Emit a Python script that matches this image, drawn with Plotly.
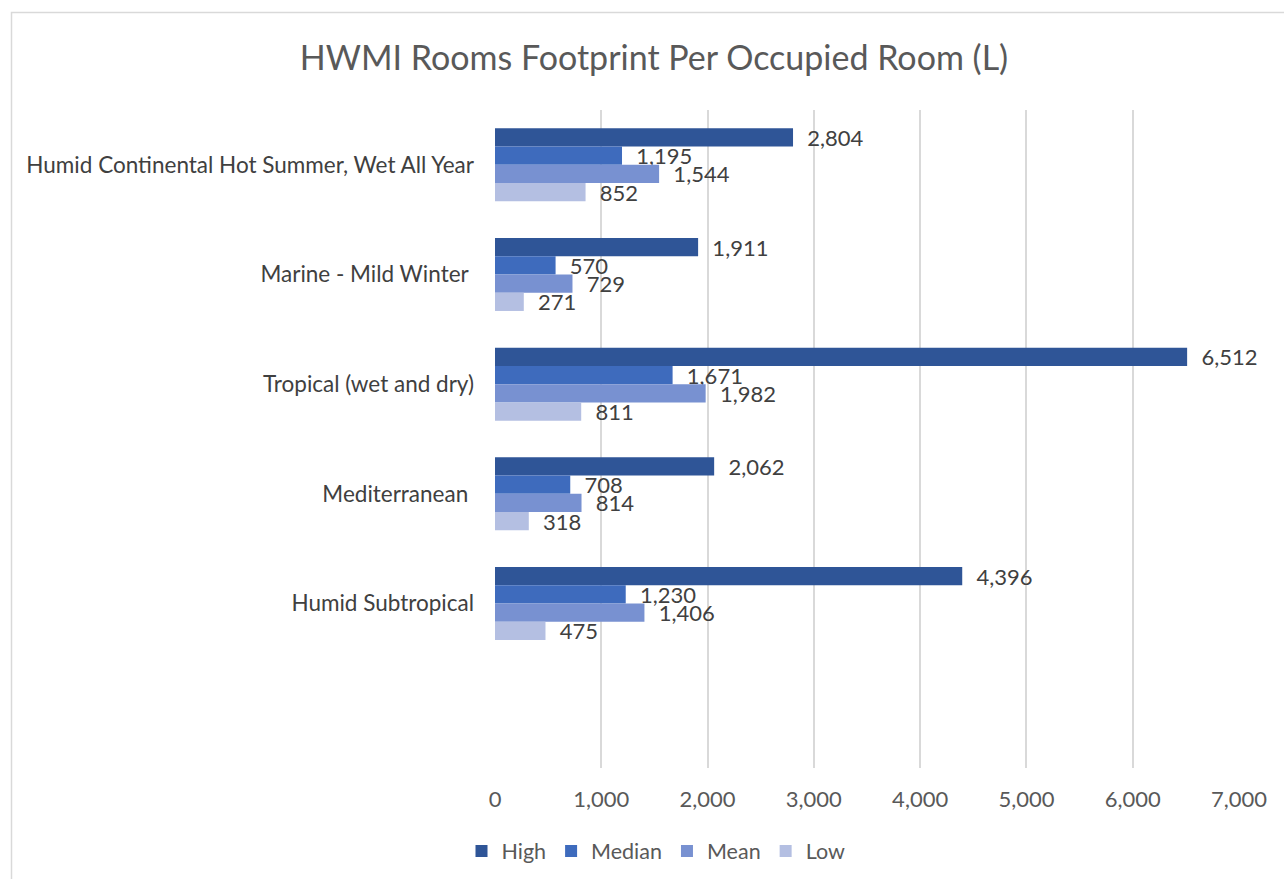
import plotly.graph_objects as go

categories = ["Humid Continental Hot Summer, Wet All Year", "Marine - Mild Winter\u00a0",
              "Tropical (wet and dry)", "Mediterranean\u00a0", "Humid Subtropical", "\u2002"]
high = [2804, 1911, 6512, 2062, 4396, None]
median = [1195, 570, 1671, 708, 1230, None]
mean = [1544, 729, 1982, 814, 1406, None]
low = [852, 271, 811, 318, 475, None]

series = [("High", high, "#2F5597"), ("Median", median, "#3E6BBD"),
          ("Mean", mean, "#7891D1"), ("Low", low, "#B4BFE2")]

FONT = "Lato"
fig = go.Figure()
for name, vals, col in series:
    fig.add_trace(go.Bar(
        y=categories, x=vals, name=name, orientation="h",
        marker=dict(color=col, line=dict(width=0)),
        text=["\u00a0\u00a0" + f"{v:,}" if v is not None else "" for v in vals],
        textposition="outside", cliponaxis=False, constraintext="none",
        textfont=dict(family=FONT, size=22, color="#404040"),
    ))

W, H = 1284, 879
L, R, T, B = 495, 45, 110, 111
pw, ph = W - L - R, H - T - B

def px(x):
    return (x - L) / pw

def py(y):
    return (H - B - y) / ph

fig.update_layout(
    width=W, height=H,
    margin=dict(l=L, r=R, t=T, b=B),
    paper_bgcolor="white", plot_bgcolor="white",
    barmode="group", bargap=0.335, bargroupgap=0,
    font=dict(family=FONT, color="#595959"),
    title=dict(text="HWMI Rooms Footprint Per Occupied Room (L)", x=654 / W, xref="container",
               xanchor="center", y=1 - 58 / H, yanchor="middle", yref="container",
               font=dict(family=FONT, size=34, color="#595959")),
    xaxis=dict(range=[0, 7000], dtick=1000, tickformat=",d", showgrid=True,
               gridcolor="#D9D9D9", gridwidth=1.5, zeroline=False, showline=False,
               ticks="", tickfont=dict(family=FONT, size=22, color="#595959"),
               ticklabelstandoff=16),
    yaxis=dict(categoryorder="array", categoryarray=categories, autorange="reversed",
               showgrid=False, showline=False, ticks="", zeroline=False,
               tickfont=dict(family=FONT, size=22.5, color="#404040"), ticklabelstandoff=20),
    legend=dict(orientation="h", x=656 / W, xref="container", xanchor="center",
                y=1 - 851 / H, yref="container", yanchor="middle",
                traceorder="normal", font=dict(family=FONT, size=21.5, color="#595959"),
                itemwidth=30),
    showlegend=True,
    shapes=[dict(type="rect", xref="paper", yref="paper",
                 x0=px(11.5), x1=px(1300), y0=py(12.5), y1=py(900),
                 line=dict(color="#D9D9D9", width=1.5), fillcolor="rgba(0,0,0,0)", layer="below")],
)

fig.write_html("out.html", config={"displayModeBar": False},
               post_script="document.body.style.margin='0';")
